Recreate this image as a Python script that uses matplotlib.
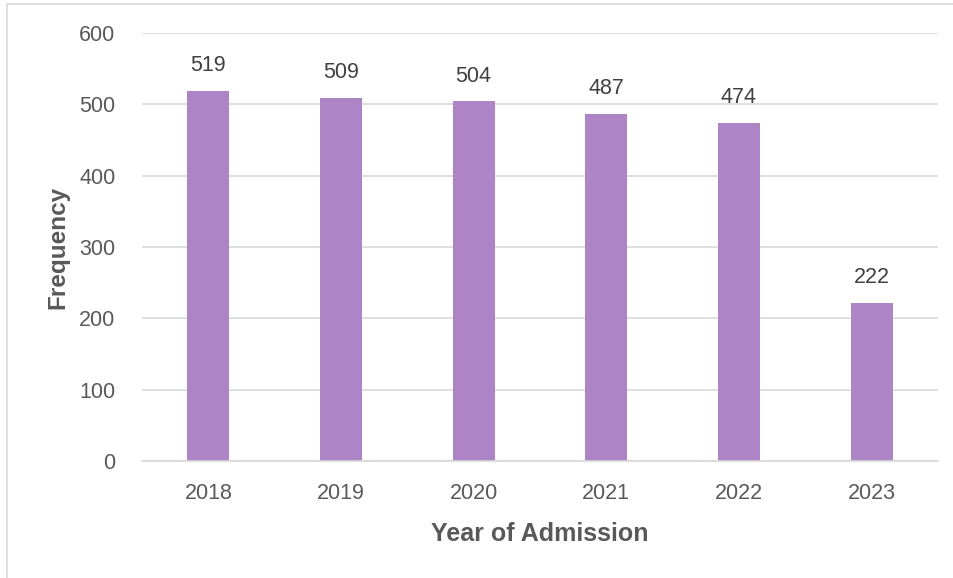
import numpy as np
import matplotlib.pyplot as plt
from matplotlib.patches import Rectangle

plt.rcParams['font.family'] = ['Liberation Sans', 'DejaVu Sans']

years = ["2018", "2019", "2020", "2021", "2022", "2023"]
counts = [519, 509, 504, 487, 474, 222]

bar_color = "#AD84C6"
text_color = "#595959"
grid_color = "#D9D9D9"

fig = plt.figure(figsize=(9.54, 5.78), dpi=100)
ax = fig.add_axes([142 / 954, 1 - 461 / 578, 796 / 954, 428 / 578])

# chart frame (only left and top edges fall inside the image)
fig.patches.append(Rectangle((7 / 954, -0.1), 1.2, 1 - 4 / 578 + 0.1,
                             transform=fig.transFigure, fill=False,
                             edgecolor="#D9D9D9", linewidth=1.2))

x = np.arange(len(years))
bars = ax.bar(x, counts, width=0.317, color=bar_color, zorder=2)

for xi, v in zip(x, counts):
    ax.annotate(str(v), (xi, v), xytext=(0, 10.5), textcoords="offset points",
                ha="center", va="bottom", fontsize=15.5, color="#404040")

ax.set_xlim(-0.5, len(years) - 0.5)
ax.set_ylim(0, 600)
ax.set_yticks(range(0, 601, 100))
ax.set_xticks(x)
ax.set_xticklabels(years)
ax.grid(axis="y", color=grid_color, linewidth=1.2, zorder=0)
ax.tick_params(axis="both", length=0, labelsize=15.5, colors=text_color)
ax.tick_params(axis="x", pad=16)
ax.tick_params(axis="y", pad=19)
for s in ["left", "right", "top"]:
    ax.spines[s].set_visible(False)
ax.spines["bottom"].set_color(grid_color)
ax.spines["bottom"].set_linewidth(1.2)

ax.set_xlabel("Year of Admission", fontsize=18, fontweight="bold",
              color=text_color, labelpad=13)
ax.set_ylabel("Frequency", fontsize=17.5, fontweight="bold",
              color=text_color, labelpad=7)

fig.savefig("out.png", dpi=100)
